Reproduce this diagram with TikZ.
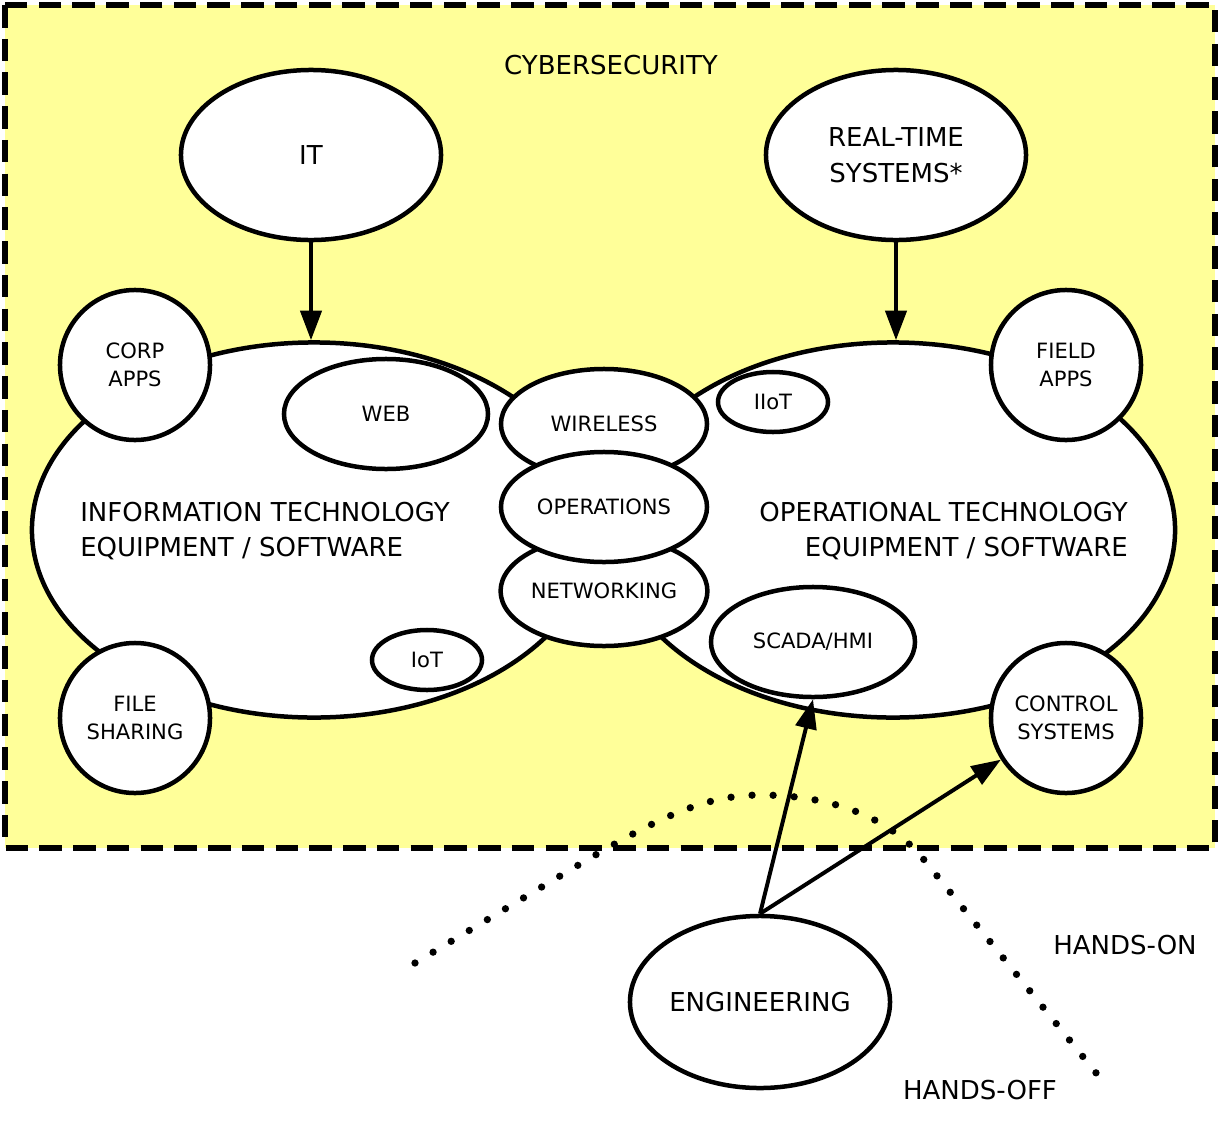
\documentclass[tikz,border=0pt]{standalone}
\usepackage{fontspec}
\setmainfont{DejaVu Sans}
\usetikzlibrary{arrows.meta,positioning,shapes.geometric}
\definecolor{cyberyellow}{RGB}{255,255,153}
\newcommand{\bigtxt}{\fontsize{18.5}{25.5}\selectfont}
\newcommand{\smalltxt}{\fontsize{15}{20}\selectfont}
\tikzset{
  zonebox/.style={draw, fill=cyberyellow, line width=3.6pt, dash pattern=on 16pt off 8pt},
  oell/.style={ellipse, draw, fill=white, line width=3.2pt, inner sep=0pt,
               align=center, font=\smalltxt},
  ocirc/.style={circle, draw, fill=white, line width=3.2pt, inner sep=0pt,
                minimum size=3.75cm, align=center, font=\smalltxt},
  olbl/.style={inner sep=0pt, font=\bigtxt},
  oarr/.style={-{Triangle[length=21pt,width=15pt]}, line width=2.8pt},
  odots/.style={line width=5.2pt, line cap=round, dash pattern=on 0pt off 15pt},
}

\begin{document}
\begin{tikzpicture}[x=0.025cm,y=-0.025cm]
    \useasboundingbox (0,0) rectangle (1218,1125);
    \fill[white] (0,0) rectangle (1218,1125);
    \draw[zonebox] (5,5) rectangle (1215,848);
    \node[olbl] (cyber) at (611,65) {CYBERSECURITY};
    % equipment blobs
    \node[oell,minimum width=14.1cm,minimum height=9.375cm] (itequip) at (314,530) {};
    \node[oell,minimum width=14.1cm,minimum height=9.375cm] (otequip) at (893,530) {};
    \node[olbl,align=left,anchor=west] (itlbl) at (80,531) {INFORMATION TECHNOLOGY\\EQUIPMENT / SOFTWARE};
    \node[olbl,align=right,anchor=east] (otlbl) at (1128,531) {OPERATIONAL TECHNOLOGY\\EQUIPMENT / SOFTWARE};
    % corner circles
    \node[ocirc] (corp) at (135,365) {CORP\\APPS};
    \node[ocirc] (file) at (135,718) {FILE\\SHARING};
    \node[ocirc] (field) at (1066,365) {FIELD\\APPS};
    \node[ocirc] (ctrl) at (1066,718) {CONTROL\\SYSTEMS};
    % inner ellipses
    \node[oell,minimum width=5.1cm,minimum height=2.75cm] (web) at (386,414) {WEB};
    \node[oell,minimum width=2.75cm,minimum height=1.5cm] (iot) at (427,660) {IoT};
    \node[oell,minimum width=2.75cm,minimum height=1.5cm] (iiot) at (773,402) {IIoT};
    \node[oell,minimum width=5.1cm,minimum height=2.75cm] (scada) at (813,642) {SCADA/HMI};
    \node[oell,minimum width=5.15cm,minimum height=2.75cm] (wireless) at (604,424) {WIRELESS};
    \node[oell,minimum width=5.15cm,minimum height=2.75cm] (netw) at (604,591) {NETWORKING};
    \node[oell,minimum width=5.15cm,minimum height=2.75cm] (ops) at (604,507) {OPERATIONS};
    % top sources
    \node[oell,font=\bigtxt,minimum width=6.5cm,minimum height=4.25cm] (it) at (311,155) {IT};
    \node[oell,font=\bigtxt,minimum width=6.5cm,minimum height=4.25cm] (rts) at (896,155) {REAL-TIME\\SYSTEMS*};
    \draw[oarr] (it) -- (it |- itequip.north);
    \draw[oarr] (rts) -- (rts |- otequip.north);
    % engineering
    \node[oell,font=\bigtxt,minimum width=6.5cm,minimum height=4.3cm] (eng) at (760,1002) {ENGINEERING};
    \draw[oarr] (eng.north) -- (scada.south);
    \draw[oarr] (eng.north) -- (ctrl);
    \draw[odots] (415,963) -- (560,876) .. controls (650,822) and (700,795) .. (760,795)
        .. controls (820,795) and (885,811) .. (925,861) -- (1105,1084);
    \node[olbl] (handson) at (1125,945) {HANDS-ON};
    \node[olbl] (handsoff) at (980,1090) {HANDS-OFF};
\end{tikzpicture}
\end{document}
